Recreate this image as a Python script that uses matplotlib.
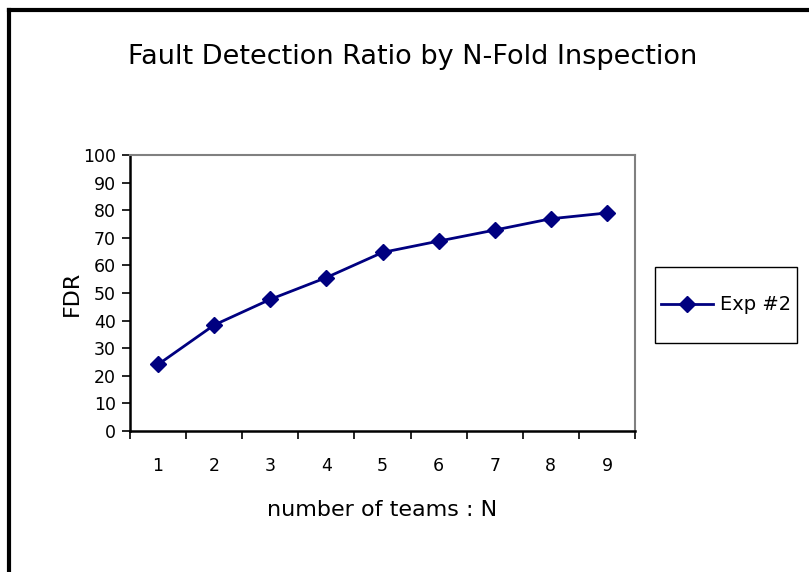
import matplotlib.pyplot as plt
from matplotlib.lines import Line2D
from matplotlib.patches import Rectangle

plt.rcParams['font.family'] = ['DejaVu Sans']

teams = [1, 2, 3, 4, 5, 6, 7, 8, 9]
fdr = [24.1, 38.4, 47.7, 55.6, 64.7, 68.8, 72.8, 76.9, 79.0]
series_name = "Exp #2"

W, H = 809, 572
fig = plt.figure(figsize=(W / 100, H / 100), dpi=100)
ax = fig.add_axes([130 / W, 1 - 431 / H, 505 / W, 276 / H])

ax.plot(teams, fdr, color='#000080', marker='D', markersize=8, linewidth=2, label=series_name)

ax.set_xlim(0.5, 9.5)
ax.set_ylim(0, 100)
ax.set_yticks(range(0, 101, 10))
ax.set_xticks([x + 0.5 for x in range(0, 10)])
ax.set_xticklabels([])
ax.set_xticks(teams, minor=True)
ax.set_xticklabels([str(t) for t in teams], minor=True)
ax.tick_params(axis='x', which='major', direction='out', length=6, width=1.2)
ax.tick_params(axis='x', which='minor', length=0, pad=19, labelsize=12.5)
ax.tick_params(axis='y', direction='out', length=6, width=1.2, labelsize=12.5, pad=4)

for s in ['left', 'bottom']:
    ax.spines[s].set_color('black')
    ax.spines[s].set_linewidth(1.8)
for s in ['top', 'right']:
    ax.spines[s].set_color('#808080')
    ax.spines[s].set_linewidth(1.5)

fig.text(413 / W, 1 - 57 / H, "Fault Detection Ratio by N-Fold Inspection", ha='center', va='center', fontsize=19.5)
fig.text(72 / W, 1 - 293 / H, "FDR", ha='center', va='center', rotation=90, fontsize=16)
fig.text(382 / W, 1 - 510 / H, "number of teams : N", ha='center', va='center', fontsize=16)

# legend box drawn by hand, entries placed inside
fig.add_artist(Rectangle((655 / W, 1 - 343 / H), 142 / W, 76 / H, transform=fig.transFigure,
                         facecolor='white', edgecolor='black', linewidth=1.0))
leg = fig.legend(loc='center left', bbox_to_anchor=(655 / W, 1 - 305 / H), fontsize=14,
                 frameon=False, borderpad=0, borderaxespad=0.3,
                 handlelength=2.7, handletextpad=0.35)

# outer chart border (top and left edges visible)
fig.add_artist(Line2D([9 / W, 1.0], [1 - 10 / H, 1 - 10 / H], transform=fig.transFigure, color='black', linewidth=3))
fig.add_artist(Line2D([9 / W, 9 / W], [0.0, 1 - 10 / H], transform=fig.transFigure, color='black', linewidth=3))

fig.savefig('out.png', dpi=100)
